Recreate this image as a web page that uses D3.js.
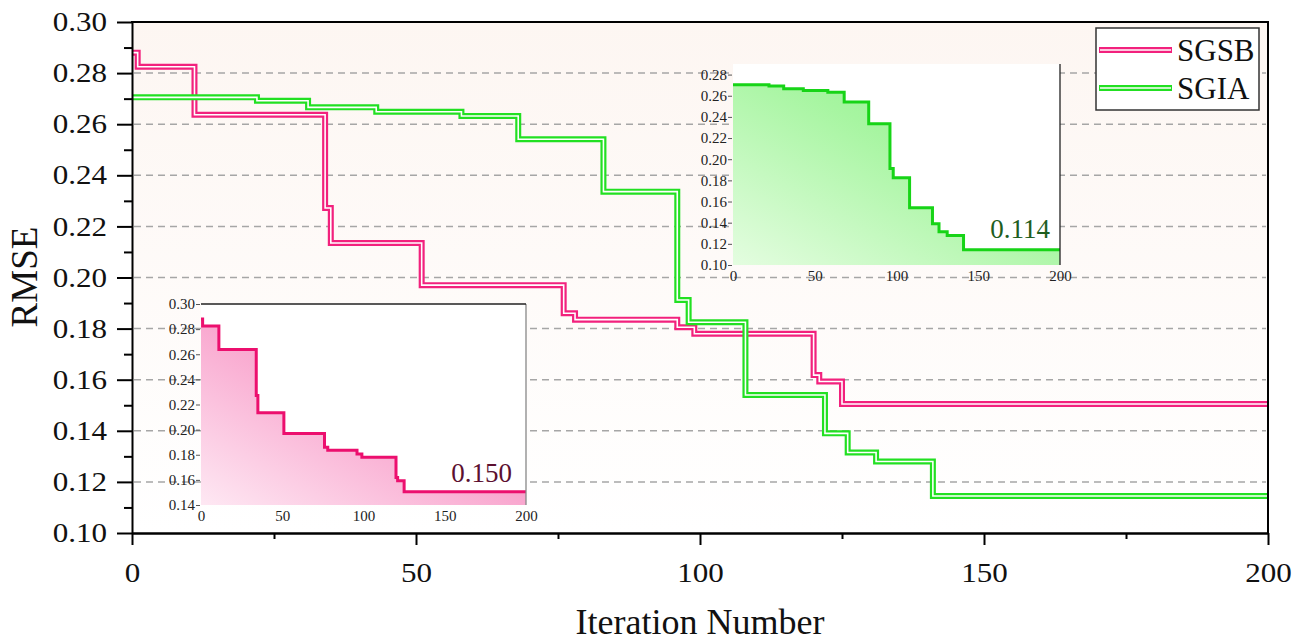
<!DOCTYPE html>
<html>
<head>
<meta charset="utf-8">
<script src="https://cdn.jsdelivr.net/npm/d3@7"></script>
<style>
  body { margin: 0; background: #fff; }
  svg text { font-family: "Liberation Serif", "Times New Roman", serif; }
</style>
</head>
<body>
<svg width="1304" height="643"></svg>
<script>
// data (step curves, value holds until next iteration)
const iterSGSB = [0, 1, 11, 34, 35, 51, 76, 78, 96, 99, 120, 121, 125, 200];
const rmseSGSB = [0.288, 0.2825, 0.2637, 0.2272, 0.2135, 0.197, 0.186, 0.1835, 0.1805, 0.178, 0.1618, 0.1593, 0.1505, 0.1505];
const iterSGIA = [0, 22, 31, 43, 58, 68, 83, 96, 98, 108, 122, 126, 131, 141, 200];
const rmseSGIA = [0.2705, 0.2692, 0.2666, 0.2649, 0.2632, 0.2541, 0.2336, 0.1912, 0.1825, 0.154, 0.139, 0.1315, 0.128, 0.1145, 0.1145];

const seriesNames = ["SGSB", "SGIA"];
const finalLabels = ["0.150", "0.114"];
const yTicks = [0.10, 0.12, 0.14, 0.16, 0.18, 0.20, 0.22, 0.24, 0.26, 0.28, 0.30];
const yMinor = [0.11, 0.13, 0.15, 0.17, 0.19, 0.21, 0.23, 0.25, 0.27, 0.29];
const xTicks = [0, 50, 100, 150, 200];
const xMinor = [25, 75, 125, 175];
const pinkInsetTicks = [0.14, 0.16, 0.18, 0.20, 0.22, 0.24, 0.26, 0.28, 0.30];
const greenInsetTicks = [0.10, 0.12, 0.14, 0.16, 0.18, 0.20, 0.22, 0.24, 0.26, 0.28];

const sgsb = iterSGSB.map((d, i) => ({x: d, y: rmseSGSB[i]}));
const sgia = iterSGIA.map((d, i) => ({x: d, y: rmseSGIA[i]}));

const pink = "#f2217d", green = "#22e022";
const serif = '"Liberation Serif", "Times New Roman", serif';

var svg = d3.select("svg");

// stretch text a little wider, the source picture is wide-ish
function stretch(sel, k) {
  sel.each(function() {
    var w = this.getComputedTextLength();
    d3.select(this).attr("textLength", w * k).attr("lengthAdjust", "spacingAndGlyphs");
  });
}

var defs = svg.append("defs");
var bg = defs.append("linearGradient").attr("id", "bg").attr("x1", 0).attr("y1", 0).attr("x2", 0).attr("y2", 1);
bg.append("stop").attr("offset", "0%").attr("stop-color", "#fdf6f2");
bg.append("stop").attr("offset", "100%").attr("stop-color", "#ffffff");
var gp = defs.append("linearGradient").attr("id", "gpink").attr("x1", 0).attr("y1", 1).attr("x2", 1).attr("y2", 0);
gp.append("stop").attr("offset", "0%").attr("stop-color", "#fee8f3");
gp.append("stop").attr("offset", "60%").attr("stop-color", "#f89bc8");
gp.append("stop").attr("offset", "100%").attr("stop-color", "#f680b9");
var gg = defs.append("linearGradient").attr("id", "ggreen").attr("x1", 0).attr("y1", 1).attr("x2", 1).attr("y2", 0);
gg.append("stop").attr("offset", "0%").attr("stop-color", "#e4fde0");
gg.append("stop").attr("offset", "60%").attr("stop-color", "#a6f5a0");
gg.append("stop").attr("offset", "100%").attr("stop-color", "#8cef88");

// main scales
var x = d3.scaleLinear().domain([0, 200]).range([132, 1268]);
var y = d3.scaleLinear().domain([0.10, 0.30]).range([533, 22]);

svg.append("rect").attr("x", 132).attr("y", 22).attr("width", 1136).attr("height", 511).attr("fill", "url(#bg)");

// dashed grid
svg.append("g").selectAll("line")
  .data(yTicks.filter(d => d > 0.105 && d < 0.295))
  .enter().append("line")
  .attr("x1", 134).attr("x2", 1266)
  .attr("y1", d => y(d)).attr("y2", d => y(d))
  .attr("stroke", "#a6a6a6").attr("stroke-width", 1.5).attr("stroke-dasharray", "7,5");

// ---- insets ----
function drawInset(data, xr, yd, yr, fillId, lineColor, ticks, label, labelColor, labelPos, topLine) {
  var ix = d3.scaleLinear().domain([0, 200]).range(xr);
  var iy = d3.scaleLinear().domain(yd).range(yr);
  var g = svg.append("g");
  g.append("rect").attr("x", xr[0]).attr("y", yr[1]).attr("width", xr[1] - xr[0]).attr("height", yr[0] - yr[1]).attr("fill", "#fff");
  var area = d3.area().curve(d3.curveStepAfter).x(d => ix(d.x)).y0(yr[0]).y1(d => iy(d.y));
  g.append("path").datum(data).attr("d", area).attr("fill", "url(#" + fillId + ")");
  var line = d3.line().curve(d3.curveStepAfter).x(d => ix(d.x)).y(d => iy(d.y));
  g.append("path").datum(data).attr("d", line).attr("fill", "none").attr("stroke", lineColor).attr("stroke-width", 3);
  // frame
  g.append("line").attr("x1", xr[1]).attr("x2", xr[1]).attr("y1", yr[1]).attr("y2", yr[0])
    .attr("stroke", topLine ? "#888" : "#222").attr("stroke-width", 1.3);
  if (topLine) {
    g.append("line").attr("x1", xr[0]).attr("x2", xr[1]).attr("y1", yr[1]).attr("y2", yr[1]).attr("stroke", "#222").attr("stroke-width", 1.5);
  }
  var ya = d3.axisLeft(iy).tickValues(ticks).tickSize(4).tickPadding(1).tickFormat(d3.format(".2f"));
  var yg = g.append("g").attr("transform", "translate(" + (xr[0] - 1) + ",0)").call(ya).attr("font-family", serif);
  yg.select(".domain").remove();
  yg.selectAll("line").attr("stroke", "#555");
  yg.selectAll("text").attr("font-size", 15).attr("fill", "#222");
  var xa = d3.axisBottom(ix).tickValues(xTicks).tickSize(0).tickPadding(5);
  var xg = g.append("g").attr("transform", "translate(0," + yr[0] + ")").call(xa).attr("font-family", serif);
  xg.select(".domain").remove();
  xg.selectAll("text").attr("font-size", 15).attr("fill", "#222");
  g.append("text").attr("x", labelPos[0]).attr("y", labelPos[1]).attr("text-anchor", "end")
    .attr("font-size", 27).attr("fill", labelColor).text(label);
}

drawInset(sgsb, [201, 526], [0.14, 0.30], [505, 304], "gpink", "#ec0f6e", pinkInsetTicks, finalLabels[0], "#5c1030", [512, 482], true);
drawInset(sgia, [733, 1060], [0.10, 0.29], [265, 64], "ggreen", "#17d417", greenInsetTicks, finalLabels[1], "#1e5e1e", [1050, 238], false);

// ---- main series: double lines ----
var mainLine = d3.line().curve(d3.curveStepAfter).x(d => x(d.x)).y(d => y(d.y));
[[sgsb, pink], [sgia, green]].forEach(function(s) {
  svg.append("path").datum(s[0]).attr("d", mainLine).attr("fill", "none")
    .attr("stroke", s[1]).attr("stroke-width", 6).attr("stroke-linejoin", "miter");
  svg.append("path").datum(s[0]).attr("d", mainLine).attr("fill", "none")
    .attr("stroke", "#fff").attr("stroke-width", 1.6);
});

// ---- axes ----
var yAxis = d3.axisLeft(y).tickValues(yTicks).tickSize(15).tickSizeOuter(0).tickPadding(10).tickFormat(d3.format(".2f"));
var yg = svg.append("g").attr("transform", "translate(132,0)").call(yAxis).attr("font-family", serif);
yg.select(".domain").attr("stroke-width", 2);
yg.selectAll(".tick line").attr("stroke-width", 2);
yg.selectAll("text").attr("font-size", 27).attr("fill", "#111").call(stretch, 1.15);
svg.append("g").attr("transform", "translate(132,0)")
  .call(d3.axisLeft(y).tickValues(yMinor).tickSize(8).tickFormat(""))
  .call(g => g.select(".domain").remove())
  .selectAll("line").attr("stroke-width", 2);

var xAxis = d3.axisBottom(x).tickValues(xTicks).tickSize(12).tickSizeOuter(0).tickPadding(18);
var xg = svg.append("g").attr("transform", "translate(0,533)").call(xAxis).attr("font-family", serif);
xg.select(".domain").attr("stroke-width", 2.5);
xg.selectAll(".tick line").attr("stroke-width", 2);
xg.selectAll("text").attr("font-size", 27).attr("fill", "#111").call(stretch, 1.15);
svg.append("g").attr("transform", "translate(0,533)")
  .call(d3.axisBottom(x).tickValues(xMinor).tickSize(6).tickFormat(""))
  .call(g => g.select(".domain").remove())
  .selectAll("line").attr("stroke-width", 2);

// frame top / right
svg.append("line").attr("x1", 131).attr("x2", 1269).attr("y1", 22).attr("y2", 22).attr("stroke", "#000").attr("stroke-width", 2);
svg.append("line").attr("x1", 1268).attr("x2", 1268).attr("y1", 21).attr("y2", 533).attr("stroke", "#000").attr("stroke-width", 2);

// axis titles
svg.append("text").attr("x", 700).attr("y", 634).attr("text-anchor", "middle")
  .attr("font-size", 36).attr("fill", "#111").text("Iteration Number");
svg.append("text").attr("transform", "translate(37,277) rotate(-90)").attr("text-anchor", "middle")
  .attr("font-size", 37).attr("fill", "#111").text("RMSE");

// legend
var lg = svg.append("g");
lg.append("rect").attr("x", 1096).attr("y", 28).attr("width", 163).attr("height", 82)
  .attr("fill", "#fff").attr("stroke", "#333").attr("stroke-width", 1.5);
[pink, green].forEach(function(c, i) {
  var ly = 50 + i * 38;
  lg.append("line").attr("x1", 1099).attr("x2", 1172).attr("y1", ly).attr("y2", ly).attr("stroke", c).attr("stroke-width", 6);
  lg.append("line").attr("x1", 1100).attr("x2", 1171).attr("y1", ly).attr("y2", ly).attr("stroke", "#fff").attr("stroke-width", 1.6);
  lg.append("text").attr("x", 1177).attr("y", ly + 11).attr("font-size", 31).attr("fill", "#111").text(seriesNames[i]);
});
</script>
</body>
</html>
